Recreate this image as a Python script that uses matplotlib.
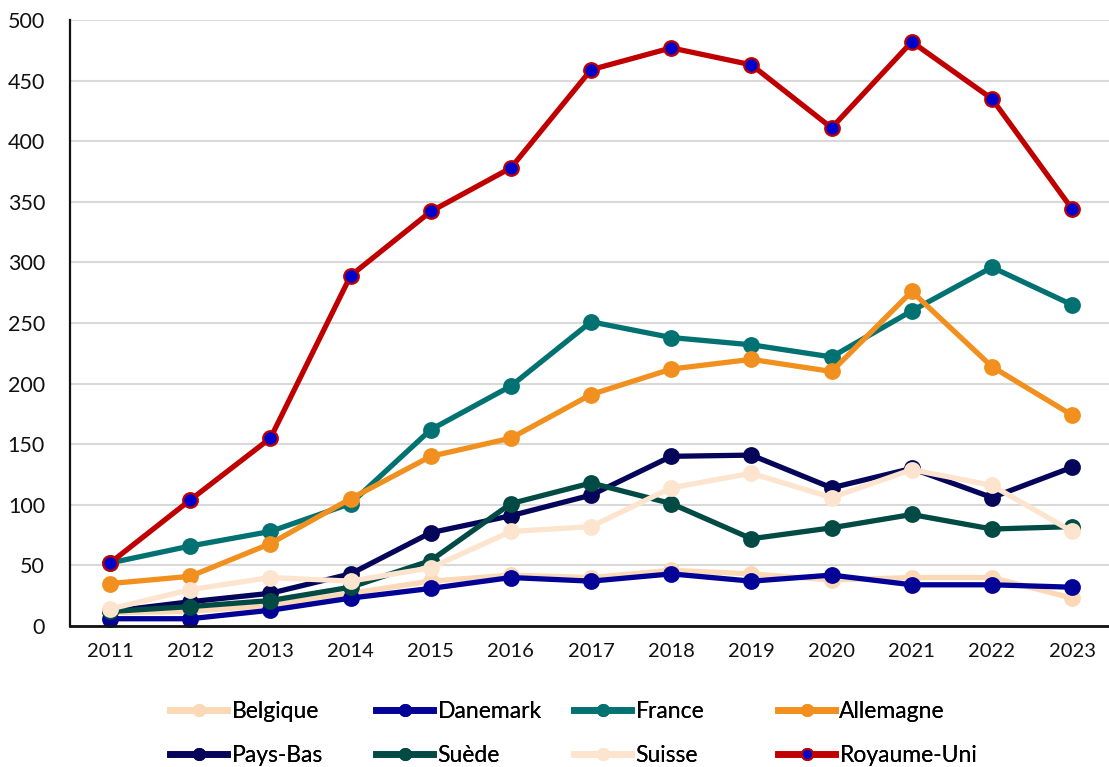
import matplotlib
matplotlib.use("Agg")
import matplotlib.pyplot as plt
from matplotlib.lines import Line2D

years = [2011, 2012, 2013, 2014, 2015, 2016, 2017, 2018, 2019, 2020, 2021, 2022, 2023]

belgique = [11, 12, 17, 27, 37, 42, 40, 46, 43, 38, 40, 40, 23]
danemark = [6, 6, 13, 23, 31, 40, 37, 43, 37, 42, 34, 34, 32]
france = [52, 66, 78, 101, 162, 198, 251, 238, 232, 222, 260, 296, 265]
allemagne = [35, 41, 68, 105, 140, 155, 191, 212, 220, 210, 276, 214, 174]
pays_bas = [12, 20, 27, 43, 77, 91, 108, 140, 141, 114, 130, 106, 131]
suede = [12, 16, 21, 32, 54, 101, 118, 101, 72, 81, 92, 80, 82]
suisse = [14, 30, 40, 37, 48, 78, 82, 114, 126, 106, 129, 116, 78]
royaume_uni = [52, 104, 155, 289, 342, 378, 459, 477, 463, 411, 482, 435, 344]

series = [
    ("Belgique", belgique, "#FBD9B7", "#FBD9B7"),
    ("Danemark", danemark, "#020296", "#020296"),
    ("France", france, "#017171", "#017171"),
    ("Allemagne", allemagne, "#F1901F", "#F1901F"),
    ("Pays-Bas", pays_bas, "#05055A", "#05055A"),
    ("Suède", suede, "#024A44", "#024A44"),
    ("Suisse", suisse, "#FDE4CF", "#FDE4CF"),
    ("Royaume-Uni", royaume_uni, "#C00000", "#0000CC"),
]

fig = plt.figure(figsize=(11.09, 7.67), dpi=100)
ax = fig.add_axes([70 / 1109, 1 - 626 / 767, 1 - 70 / 1109, (626 - 20) / 767])

tick_font = "Lato"
legend_font = ["Lato", "DejaVu Sans"]

lines = []
for name, vals, col, face in series:
    ln, = ax.plot(years, vals, color=col, lw=3.8, marker="o", ms=10.5,
                  markerfacecolor=face, markeredgecolor=col, markeredgewidth=1.6,
                  solid_joinstyle="round", label=name, clip_on=False)
    lines.append(ln)

ax.set_xlim(2010.5, 2023.46)
ax.set_ylim(0, 500)
ax.set_xticks(years)
ax.set_xticklabels([str(y) for y in years], fontfamily=tick_font, fontsize=14.5)
ax.set_yticks(range(0, 501, 50))
ax.set_yticklabels([str(v) for v in range(0, 501, 50)], fontfamily=tick_font, fontsize=15.5)
ax.tick_params(axis="both", length=0, colors="#111111")
ax.tick_params(axis="x", pad=12)
ax.tick_params(axis="y", pad=18)

ax.grid(axis="y", color="#D9D9D9", lw=1.5)
ax.set_axisbelow(True)
for s in ("top", "right"):
    ax.spines[s].set_visible(False)
ax.spines["left"].set_color("#111111")
ax.spines["left"].set_linewidth(1.6)
ax.spines["bottom"].set_color("#111111")
ax.spines["bottom"].set_linewidth(2.0)

# legend: two rows of four entries
col_x = [170, 376, 574, 778]
row_y = [712, 756]
for i, ln in enumerate(lines):
    r, c = divmod(i, 4)
    h = Line2D([], [], color=ln.get_color(), lw=4.8, marker="o", ms=8,
               markerfacecolor=ln.get_markerfacecolor(),
               markeredgecolor=ln.get_markeredgecolor(), markeredgewidth=1.4)
    leg = fig.legend([h], [ln.get_label()], loc="center left",
                     bbox_to_anchor=(col_x[c] / 1109, 1 - row_y[r] / 767),
                     frameon=False, borderpad=0, borderaxespad=0,
                     handlelength=2.5, handletextpad=0.18,
                     prop={"family": legend_font, "size": 16.5})
    fig.add_artist(leg)

fig.savefig("out.png", dpi=100)
